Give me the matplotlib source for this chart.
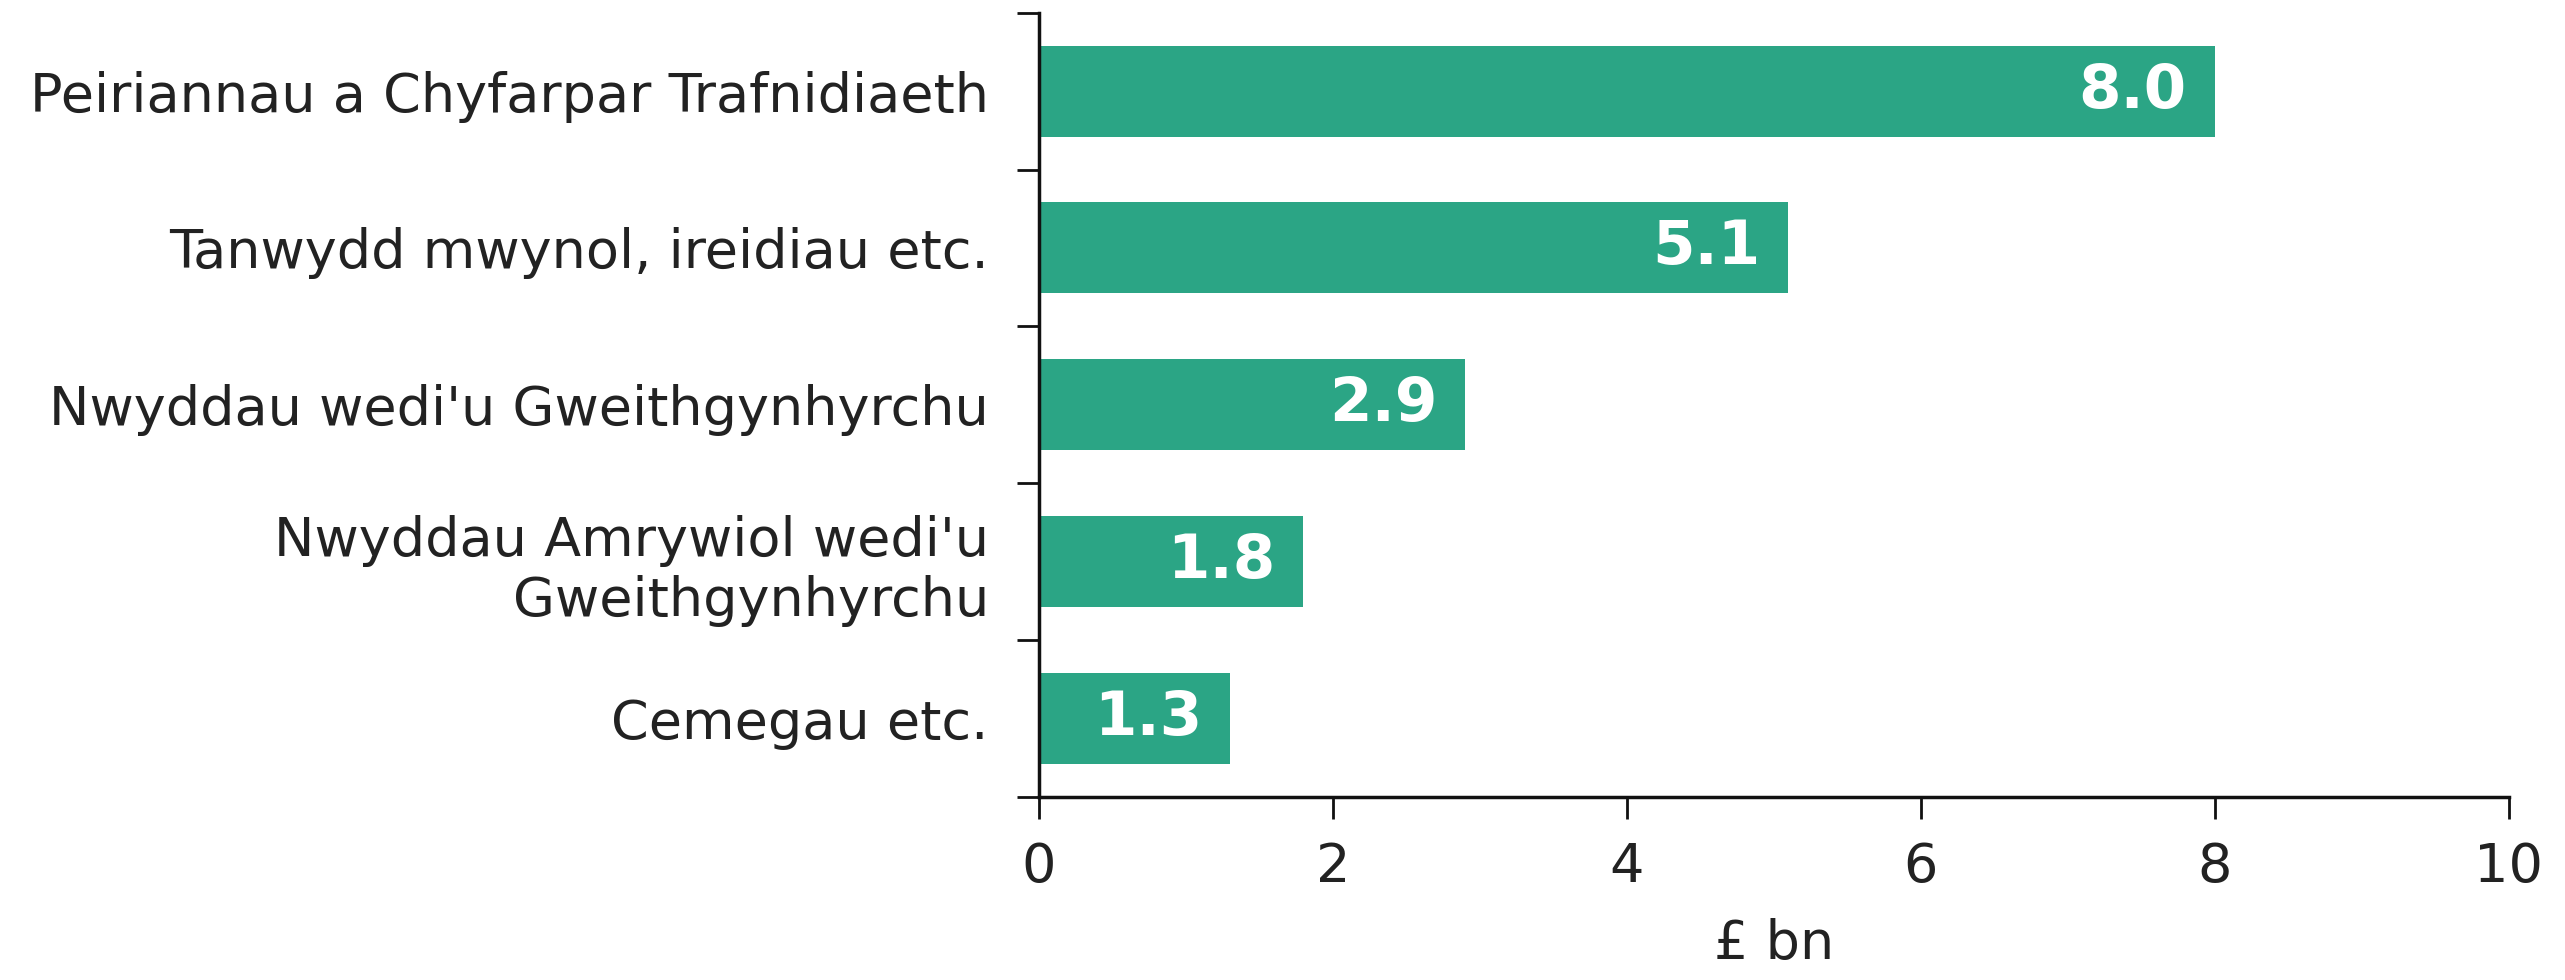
import matplotlib
matplotlib.use("Agg")
import matplotlib.pyplot as plt

categories = [
    "Peiriannau a Chyfarpar Trafnidiaeth",
    "Tanwydd mwynol, ireidiau etc.",
    "Nwyddau wedi'u Gweithgynhyrchu",
    "Nwyddau Amrywiol wedi'u\nGweithgynhyrchu",
    "Cemegau etc.",
]
values = [8.0, 5.1, 2.9, 1.8, 1.3]
xticks = [0, 2, 4, 6, 8, 10]
xlabel = "£ bn"

bar_colour = "#2BA585"
text_colour = "#222222"

plt.rcParams["font.family"] = ["DejaVu Sans"]

fig = plt.figure(figsize=(25.65, 9.8), dpi=100)
ax = fig.add_axes([0.405, 0.187, 0.573, 0.800])

pos = list(range(len(categories)))
ax.barh(pos, values, height=0.58, color=bar_colour)

# value labels inside the bar ends
for p, v in zip(pos, values):
    ax.annotate(f"{v:.1f}", xy=(v, p), xytext=(-20, 0), textcoords="offset points",
                ha="right", va="center", color="white", fontsize=44, fontweight="bold")

ax.set_ylim(len(categories) - 0.5, -0.5)
ax.set_xlim(0, 10)
ax.set_xticks(xticks)
ax.set_xticklabels([str(t) for t in xticks])

# ticks between the categories, labels at the centres
ax.set_yticks([p + 0.5 for p in [-1] + pos])
ax.set_yticklabels([])
ax.set_yticks(pos, minor=True)
ax.set_yticklabels(categories, minor=True, ha="right", multialignment="right")
ax.tick_params(axis="y", which="minor", length=0, pad=36, labelsize=39, labelcolor=text_colour)
ax.tick_params(axis="y", which="major", length=16, width=2, direction="out", color="#111111")
ax.tick_params(axis="x", length=16, width=2, pad=16, labelsize=39, labelcolor=text_colour, color="#111111")

for s in ["top", "right"]:
    ax.spines[s].set_visible(False)
for s in ["left", "bottom"]:
    ax.spines[s].set_linewidth(2.5)
    ax.spines[s].set_color("#111111")

ax.set_xlabel(xlabel, fontsize=39, color=text_colour, labelpad=18)

fig.savefig("out.png", dpi=100)
